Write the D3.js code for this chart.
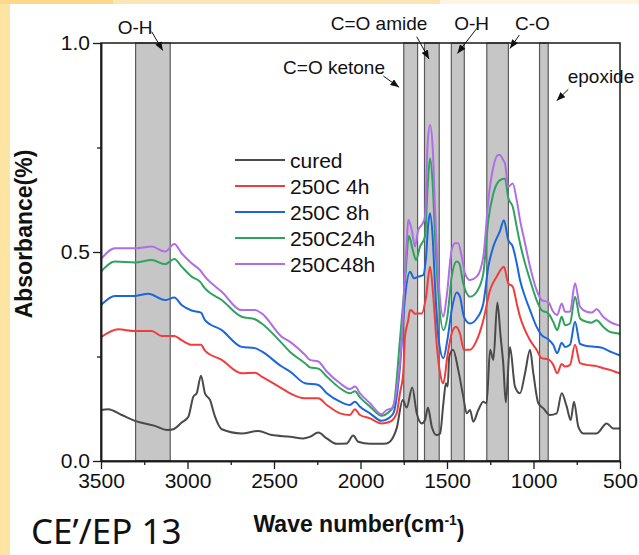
<!DOCTYPE html>
<html>
<head>
<meta charset="utf-8">
<script src="https://cdn.jsdelivr.net/npm/d3@7"></script>
<style>
    body { margin: 0; background: #fff; }
    svg { display: block; font-family: "Liberation Sans", Arial, sans-serif; }
</style>
</head>
<body>
<svg id="ftir"></svg>
<script>
// series names + colours (legend order)
const seriesNames = ["cured", "250C 4h", "250C 8h", "250C24h", "250C48h"];
const seriesColors = ["#4a4a4a", "#f23c3c", "#1b66dc", "#2ea35e", "#b06ee6"];

// [wave number, absorbance]
const cured = [
    [3500,0.122],[3458,0.124],[3380,0.110],[3303,0.096],[3188,0.084],[3120,0.074],[3082,0.076],
    [3034,0.092],[2995,0.106],[2966,0.154],[2947,0.162],[2922,0.204],[2899,0.162],[2870,0.146],
    [2841,0.106],[2802,0.076],[2687,0.066],[2591,0.072],[2513,0.062],[2407,0.058],[2331,0.054],
    [2292,0.058],[2244,0.068],[2195,0.054],[2138,0.041],[2080,0.042],[2042,0.061],[2013,0.046],
    [1945,0.041],[1887,0.041],[1849,0.042],[1810,0.058],[1791,0.078],[1756,0.146],[1733,0.128],
    [1701,0.176],[1675,0.114],[1646,0.090],[1627,0.098],[1610,0.128],[1588,0.082],[1560,0.062],
    [1540,0.066],[1521,0.138],[1506,0.186],[1496,0.178],[1487,0.250],[1465,0.266],[1435,0.218],
    [1406,0.154],[1386,0.114],[1367,0.122],[1348,0.094],[1319,0.122],[1290,0.142],[1271,0.138],
    [1251,0.266],[1232,0.242],[1209,0.379],[1190,0.297],[1175,0.234],[1160,0.140],[1136,0.273],
    [1107,0.178],[1078,0.162],[1049,0.210],[1020,0.266],[1001,0.210],[972,0.138],[943,0.126],
    [905,0.110],[866,0.114],[837,0.162],[808,0.130],[785,0.098],[766,0.142],[741,0.082],
    [712,0.066],[635,0.066],[577,0.090],[539,0.078],[500,0.078]
];
const h4 = [
    [3500,0.296],[3400,0.315],[3303,0.311],[3207,0.311],[3149,0.299],[3076,0.299],[3034,0.289],
    [2976,0.278],[2922,0.278],[2899,0.264],[2802,0.242],[2687,0.210],[2610,0.211],[2571,0.202],
    [2455,0.174],[2407,0.162],[2321,0.150],[2244,0.150],[2195,0.134],[2118,0.114],[2061,0.110],
    [2032,0.124],[2003,0.110],[1945,0.102],[1878,0.090],[1830,0.094],[1791,0.114],[1772,0.162],
    [1753,0.210],[1743,0.297],[1724,0.337],[1714,0.361],[1704,0.360],[1685,0.352],[1675,0.353],
    [1646,0.353],[1621,0.393],[1598,0.465],[1579,0.393],[1560,0.282],[1540,0.210],[1521,0.186],
    [1498,0.250],[1473,0.305],[1448,0.321],[1425,0.305],[1402,0.266],[1367,0.266],[1328,0.289],
    [1290,0.337],[1251,0.409],[1213,0.441],[1171,0.465],[1146,0.425],[1120,0.417],[1097,0.377],
    [1078,0.345],[1049,0.313],[1020,0.289],[982,0.266],[953,0.246],[914,0.243],[886,0.230],
    [863,0.210],[837,0.232],[818,0.226],[789,0.230],[760,0.278],[731,0.234],[693,0.230],
    [635,0.227],[597,0.222],[558,0.218],[510,0.211],[500,0.210]
];
const h8 = [
    [3500,0.373],[3419,0.395],[3303,0.395],[3227,0.400],[3130,0.385],[3076,0.391],[3034,0.373],
    [2976,0.360],[2922,0.355],[2899,0.337],[2802,0.313],[2687,0.273],[2610,0.270],[2571,0.262],
    [2455,0.226],[2407,0.214],[2321,0.186],[2244,0.182],[2195,0.162],[2118,0.142],[2061,0.134],
    [2032,0.142],[2003,0.130],[1945,0.114],[1878,0.096],[1839,0.102],[1810,0.114],[1772,0.225],
    [1743,0.390],[1714,0.453],[1691,0.437],[1666,0.441],[1637,0.445],[1621,0.489],[1608,0.569],
    [1598,0.593],[1583,0.537],[1569,0.417],[1550,0.297],[1521,0.246],[1498,0.289],[1473,0.361],
    [1444,0.403],[1425,0.393],[1402,0.345],[1367,0.329],[1328,0.341],[1290,0.377],[1261,0.465],
    [1232,0.513],[1194,0.550],[1171,0.576],[1146,0.529],[1120,0.513],[1097,0.473],[1078,0.433],
    [1049,0.393],[1020,0.361],[982,0.321],[953,0.301],[914,0.291],[886,0.278],[863,0.258],
    [837,0.283],[818,0.273],[789,0.278],[760,0.333],[731,0.280],[693,0.275],[635,0.273],
    [597,0.270],[558,0.262],[510,0.254],[500,0.253]
];
const h24 = [
    [3500,0.453],[3419,0.477],[3303,0.475],[3207,0.481],[3130,0.471],[3076,0.483],[3034,0.465],
    [2976,0.441],[2928,0.429],[2899,0.413],[2802,0.385],[2687,0.345],[2610,0.339],[2571,0.329],
    [2455,0.282],[2407,0.261],[2321,0.234],[2292,0.224],[2244,0.221],[2195,0.202],[2118,0.174],
    [2061,0.162],[2032,0.167],[2003,0.152],[1945,0.130],[1878,0.108],[1839,0.116],[1810,0.130],
    [1772,0.290],[1743,0.430],[1720,0.538],[1698,0.505],[1679,0.481],[1656,0.513],[1627,0.537],
    [1612,0.656],[1598,0.724],[1583,0.664],[1569,0.537],[1550,0.401],[1521,0.313],[1498,0.345],
    [1473,0.441],[1444,0.477],[1429,0.473],[1406,0.425],[1367,0.393],[1328,0.405],[1290,0.449],
    [1261,0.577],[1232,0.640],[1194,0.672],[1165,0.676],[1146,0.630],[1120,0.608],[1097,0.560],
    [1078,0.521],[1049,0.473],[1020,0.433],[982,0.385],[953,0.361],[914,0.353],[886,0.333],
    [863,0.313],[837,0.345],[818,0.325],[789,0.329],[760,0.393],[731,0.341],[693,0.333],
    [664,0.331],[635,0.337],[597,0.321],[558,0.309],[510,0.305],[500,0.304]
];
const h48 = [
    [3500,0.483],[3419,0.509],[3303,0.509],[3207,0.513],[3130,0.501],[3076,0.519],[3034,0.497],
    [2976,0.473],[2928,0.457],[2899,0.441],[2802,0.405],[2687,0.361],[2610,0.361],[2571,0.353],
    [2455,0.297],[2407,0.285],[2321,0.254],[2292,0.242],[2244,0.238],[2195,0.214],[2118,0.186],
    [2061,0.172],[2032,0.178],[2003,0.162],[1945,0.138],[1878,0.112],[1849,0.122],[1820,0.126],
    [1791,0.170],[1762,0.289],[1743,0.450],[1733,0.521],[1724,0.577],[1704,0.553],[1685,0.513],
    [1666,0.553],[1646,0.565],[1627,0.584],[1612,0.760],[1598,0.804],[1583,0.752],[1569,0.600],
    [1550,0.441],[1521,0.345],[1502,0.393],[1473,0.505],[1454,0.521],[1435,0.521],[1415,0.489],
    [1396,0.449],[1367,0.433],[1328,0.441],[1290,0.489],[1261,0.624],[1232,0.704],[1204,0.732],
    [1194,0.732],[1175,0.720],[1165,0.712],[1146,0.656],[1120,0.664],[1097,0.624],[1078,0.577],
    [1049,0.521],[1020,0.465],[982,0.409],[953,0.385],[914,0.380],[886,0.357],[863,0.349],
    [837,0.377],[818,0.357],[789,0.357],[760,0.425],[731,0.369],[693,0.357],[664,0.355],
    [635,0.363],[597,0.345],[558,0.333],[510,0.325],[500,0.324]
];
const allSeries = [cured, h4, h8, h24, h48];

// shaded assignment bands, [from, to] in cm-1
const bands = [[3300,3100],[1750,1670],[1630,1545],[1475,1400],[1270,1145],[965,915]];

// tick values
const xTicks = [3500, 3000, 2500, 2000, 1500, 1000, 500];
const xMinorTicks = [3250, 2750, 2250, 1750, 1250, 750];
const yTicks = [0, 0.5, 1.0];
const yMinorTicks = [0.25, 0.75];

// peak labels, anchored in data units: text point, arrow start, arrow tip
const peakLabels = ["O-H", "C=O ketone", "C=O amide", "O-H", "C-O", "epoxide"];
const labelAt = [[3303,1.022],[2153,0.926],[1893,1.030],[1358,1.030],[1006,1.030],[610,0.904]];
const arrowFrom = [[3207,1.027],[1868,0.921],[1675,1.015],[1328,1.035],[1082,1.019],[799,0.889]];
const arrowTo = [[3143,0.982],[1777,0.894],[1604,0.962],[1440,0.975],[1136,0.987],[866,0.862]];

function drawChart() {
    const width = 639;
    const height = 555;
    const margin = {top: 43, right: 19, bottom: 94, left: 101};

    const svg = d3.select("#ftir")
        .attr("width", width)
        .attr("height", height);

    // slide backdrop strips
    svg.append("rect").attr("x", 0).attr("y", 0).attr("width", 10).attr("height", height).attr("fill", "#fde4a3");
    svg.append("rect").attr("x", 0).attr("y", 0).attr("width", 113).attr("height", 4).attr("fill", "#fcd88c");
    svg.append("rect").attr("x", 113).attr("y", 0).attr("width", 327).attr("height", 4).attr("fill", "#fde6b6");
    svg.append("rect").attr("x", 440).attr("y", 0).attr("width", 199).attr("height", 4).attr("fill", "#fdf4e1");

    const xScale = d3.scaleLinear()
        .domain([3500, 500])
        .range([margin.left, width - margin.right]);

    const yScale = d3.scaleLinear()
        .domain([0, 1])
        .range([height - margin.bottom, margin.top]);

    // bands
    svg.append("g")
        .selectAll("rect")
        .data(bands)
        .enter()
        .append("rect")
            .attr("x", d => xScale(d[0]))
            .attr("y", yScale(1))
            .attr("width", d => xScale(d[1]) - xScale(d[0]))
            .attr("height", yScale(0) - yScale(1))
            .attr("fill", "#c6c6c6")
            .attr("stroke", "#5a5a5a")
            .attr("stroke-width", 1.2);

    // spectra
    const line = d3.line()
        .x(d => xScale(d[0]))
        .y(d => yScale(d[1]))
        .curve(d3.curveMonotoneX);

    svg.append("g")
        .selectAll("path")
        .data(allSeries)
        .enter()
        .append("path")
            .attr("d", line)
            .attr("fill", "none")
            .attr("stroke", (d, i) => seriesColors[i])
            .attr("stroke-width", 2)
            .attr("stroke-linejoin", "round");

    // frame
    svg.append("rect")
        .attr("x", margin.left)
        .attr("y", margin.top)
        .attr("width", width - margin.left - margin.right)
        .attr("height", height - margin.top - margin.bottom)
        .attr("fill", "none")
        .attr("stroke", "#1a1a1a")
        .attr("stroke-width", 1.5);

    // axes, major + minor ticks
    const xAxis = d3.axisBottom(xScale).tickValues(xTicks).tickSize(8).tickSizeOuter(0).tickPadding(4)
        .tickFormat(d3.format("d"));
    const xMinor = d3.axisBottom(xScale).tickValues(xMinorTicks).tickSize(4).tickSizeOuter(0).tickFormat("");
    const yAxis = d3.axisLeft(yScale).tickValues(yTicks).tickSize(8).tickSizeOuter(0).tickPadding(3)
        .tickFormat(d3.format(".1f"));
    const yMinor = d3.axisLeft(yScale).tickValues(yMinorTicks).tickSize(4).tickSizeOuter(0).tickFormat("");

    [xAxis, xMinor].forEach(ax => {
        svg.append("g")
            .attr("transform", `translate(0, ${height - margin.bottom})`)
            .call(ax);
    });
    [yAxis, yMinor].forEach(ax => {
        svg.append("g")
            .attr("transform", `translate(${margin.left}, 0)`)
            .call(ax);
    });

    svg.selectAll(".domain").attr("stroke", "#1a1a1a").attr("stroke-width", 1.5);
    svg.selectAll(".tick line").attr("stroke", "#1a1a1a").attr("stroke-width", 1.3);
    svg.selectAll(".tick text")
        .attr("fill", "#111")
        .style("font-size", "21px")
        .style("font-family", "'Liberation Sans', Arial, sans-serif");

    // arrowhead
    svg.append("defs").append("marker")
        .attr("id", "arrow")
        .attr("viewBox", "0 0 10 8")
        .attr("refX", 10)
        .attr("refY", 4)
        .attr("markerWidth", 9)
        .attr("markerHeight", 7)
        .attr("markerUnits", "userSpaceOnUse")
        .attr("orient", "auto")
        .append("path")
            .attr("d", "M0,0 L10,4 L0,8 Z")
            .attr("fill", "#111");

    // peak labels with arrows
    peakLabels.forEach((label, i) => {
        svg.append("line")
            .attr("x1", xScale(arrowFrom[i][0]))
            .attr("y1", yScale(arrowFrom[i][1]))
            .attr("x2", xScale(arrowTo[i][0]))
            .attr("y2", yScale(arrowTo[i][1]))
            .attr("stroke", "#111")
            .attr("stroke-width", 1)
            .attr("marker-end", "url(#arrow)");

        svg.append("text")
            .attr("x", xScale(labelAt[i][0]))
            .attr("y", yScale(labelAt[i][1]))
            .style("text-anchor", "middle")
            .style("font-size", "19px")
            .attr("fill", "#111")
            .text(label);
    });

    // legend
    const legend = svg.append("g").attr("transform", "translate(235, 160)");
    seriesNames.forEach((name, i) => {
        legend.append("line")
            .attr("x1", 0).attr("x2", 50)
            .attr("y1", i * 26).attr("y2", i * 26)
            .attr("stroke", seriesColors[i])
            .attr("stroke-width", 2);
        legend.append("text")
            .attr("x", 55)
            .attr("y", i * 26)
            .attr("dy", "0.36em")
            .style("font-size", "21px")
            .attr("fill", "#111")
            .text(name);
    });

    // axis titles
    const xTitle = svg.append("text")
        .attr("x", 359)
        .attr("y", 532)
        .style("text-anchor", "middle")
        .style("font-size", "23px")
        .style("font-weight", "bold")
        .attr("fill", "#111");
    xTitle.append("tspan").text("Wave number(cm");
    xTitle.append("tspan").attr("dy", "-0.5em").style("font-size", "14px").text("-1");
    xTitle.append("tspan").attr("dy", "0.5em").text(")");

    svg.append("text")
        .attr("transform", "rotate(-90)")
        .attr("x", -234)
        .attr("y", 32)
        .style("text-anchor", "middle")
        .style("font-size", "23px")
        .style("font-weight", "bold")
        .attr("fill", "#111")
        .text("Absorbance(%)");

    // slide caption
    svg.append("text")
        .attr("x", 31)
        .attr("y", 544)
        .style("font-family", "'Noto Sans', 'Open Sans', sans-serif")
        .style("font-size", "35px")
        .attr("fill", "#111")
        .text("CE\u2019/EP 13");
}

drawChart();
</script>
</body>
</html>
